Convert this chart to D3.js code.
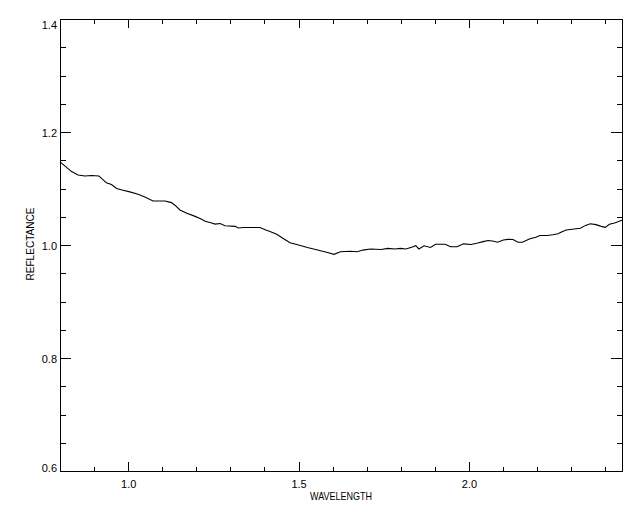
<!DOCTYPE html>
<html>
<head>
<meta charset="utf-8">
<script src="https://cdn.jsdelivr.net/npm/d3@7/dist/d3.min.js"></script>
<style>
  html, body { margin: 0; padding: 0; background: #fff; }
  svg { display: block; }
  text { font-family: "Liberation Sans", Arial, sans-serif; font-size: 11px; fill: #000; }
</style>
</head>
<body>
<svg id="chart" width="640" height="512"></svg>
<script>
// ---- Data ----
const wavelength = [
  0.800, 0.814, 0.834, 0.853, 0.873, 0.892, 0.914, 0.922, 0.936, 0.951,
  0.966, 0.985, 1.005, 1.029, 1.049, 1.073, 1.088, 1.108, 1.127, 1.138,
  1.152, 1.172, 1.191, 1.211, 1.226, 1.245, 1.255, 1.270, 1.284, 1.314,
  1.323, 1.338, 1.367, 1.387, 1.402, 1.416, 1.436, 1.455, 1.475, 1.500,
  1.526, 1.556, 1.585, 1.604, 1.623, 1.652, 1.672, 1.689, 1.711, 1.742,
  1.762, 1.783, 1.799, 1.815, 1.834, 1.844, 1.853, 1.868, 1.887, 1.902,
  1.930, 1.946, 1.965, 1.984, 2.006, 2.026, 2.041, 2.056, 2.069, 2.084,
  2.101, 2.114, 2.129, 2.144, 2.157, 2.177, 2.196, 2.208, 2.230, 2.246,
  2.261, 2.270, 2.285, 2.303, 2.327, 2.342, 2.356, 2.373, 2.388, 2.400,
  2.412, 2.427, 2.437, 2.449
];
const reflectance = [
  1.147, 1.140, 1.130, 1.124, 1.122, 1.123, 1.122, 1.118, 1.110, 1.107,
  1.100, 1.097, 1.094, 1.090, 1.085, 1.078, 1.078, 1.078, 1.075, 1.070,
  1.062, 1.056, 1.052, 1.047, 1.042, 1.039, 1.037, 1.038, 1.034, 1.033,
  1.030, 1.031, 1.031, 1.031, 1.027, 1.024, 1.019, 1.0115, 1.004, 1.000,
  0.9956, 0.9912, 0.9867, 0.9835, 0.9880, 0.989, 0.988, 0.991, 0.993, 0.992,
  0.994, 0.993, 0.994, 0.993, 0.9965, 0.9988, 0.993, 0.9986, 0.9956, 1.0014,
  1.0014, 0.997, 0.997, 1.002, 1.001, 1.0035, 1.006, 1.008, 1.007, 1.005,
  1.009, 1.010, 1.0097, 1.005, 1.0048, 1.0106, 1.0136, 1.0168, 1.0168, 1.018,
  1.020, 1.0225, 1.0265, 1.028, 1.0296, 1.0347, 1.0377, 1.036, 1.033, 1.0313,
  1.0368, 1.039, 1.041, 1.044
];
const xMajorTicks = [1.0, 1.5, 2.0];
const xMinorTicks = [0.9, 1.1, 1.2, 1.3, 1.4, 1.6, 1.7, 1.8, 1.9, 2.1, 2.2, 2.3, 2.4];
const yMajorTicks = [0.6, 0.8, 1.0, 1.2, 1.4];
const yMinorTicks = [0.65, 0.7, 0.75, 0.85, 0.9, 0.95, 1.05, 1.1, 1.15, 1.25, 1.3, 1.35];
const xTitle = "WAVELENGTH";
const yTitle = "REFLECTANCE";

(function () {
  // ---- Layout ----
  const pL = 60, pR = 622, pT = 19, pB = 471;
  const svg = d3.select("#chart");

  const x = d3.scaleLinear().domain([0.8, 2.449]).range([pL, pR]);
  const y = d3.scaleLinear().domain([0.6, 1.4]).range([pB, pT]);

  const majX = 9, minX = 4.5, majY = 11, minY = 5.5;
  const fmt = d3.format(".1f");

  const g = svg.append("g").attr("shape-rendering", "crispEdges");

  // Bottom axis (ticks inward)
  const bottomAxis = g.append("g").attr("transform", `translate(0,${pB})`)
    .call(d3.axisBottom(x).tickValues(xMajorTicks).tickSizeInner(-majX).tickSizeOuter(0).tickPadding(8).tickFormat(fmt));
  g.append("g").attr("transform", `translate(0,${pB})`)
    .call(d3.axisBottom(x).tickValues(xMinorTicks).tickSizeInner(-minX).tickSizeOuter(0).tickFormat(""));
  // Top axis
  g.append("g").attr("transform", `translate(0,${pT})`)
    .call(d3.axisTop(x).tickValues(xMajorTicks).tickSizeInner(-majX).tickSizeOuter(0).tickFormat(""));
  g.append("g").attr("transform", `translate(0,${pT})`)
    .call(d3.axisTop(x).tickValues(xMinorTicks).tickSizeInner(-minX).tickSizeOuter(0).tickFormat(""));
  // Left axis
  const leftAxis = g.append("g").attr("transform", `translate(${pL},0)`)
    .call(d3.axisLeft(y).tickValues(yMajorTicks).tickSizeInner(-majY).tickSizeOuter(0).tickPadding(3).tickFormat(fmt));
  g.append("g").attr("transform", `translate(${pL},0)`)
    .call(d3.axisLeft(y).tickValues(yMinorTicks).tickSizeInner(-minY).tickSizeOuter(0).tickFormat(""));
  // Right axis
  g.append("g").attr("transform", `translate(${pR},0)`)
    .call(d3.axisRight(y).tickValues(yMajorTicks).tickSizeInner(-majY).tickSizeOuter(0).tickFormat(""));
  g.append("g").attr("transform", `translate(${pR},0)`)
    .call(d3.axisRight(y).tickValues(yMinorTicks).tickSizeInner(-minY).tickSizeOuter(0).tickFormat(""));

  g.selectAll(".domain").remove();
  g.selectAll(".tick line").attr("stroke", "#000");
  g.selectAll(".tick text").attr("font-family", null).attr("font-size", null).attr("fill", "#000");

  // Keep y labels inside the frame's vertical extent like the reference
  leftAxis.selectAll(".tick").each(function (d) {
    const yy = y(d);
    const base = Math.min(Math.max(yy + 4, pT + 9), pB) - yy;
    d3.select(this).select("text").attr("dy", null).attr("y", base).attr("x", -3);
  });
  bottomAxis.selectAll(".tick text").attr("dy", null).attr("y", 16.5);

  // Frame
  g.append("rect")
    .attr("x", pL).attr("y", pT)
    .attr("width", pR - pL).attr("height", pB - pT)
    .attr("fill", "none").attr("stroke", "#000").attr("stroke-width", 1);

  // Titles
  svg.append("text")
    .attr("x", 341).attr("y", 500)
    .attr("text-anchor", "middle")
    .attr("textLength", 62).attr("lengthAdjust", "spacingAndGlyphs")
    .text(xTitle);
  svg.append("text")
    .attr("transform", "translate(34,244) rotate(-90)")
    .attr("text-anchor", "middle")
    .attr("textLength", 73).attr("lengthAdjust", "spacingAndGlyphs")
    .text(yTitle);

  // Curve
  const pts = wavelength.map((w, i) => [w, reflectance[i]]);
  svg.append("path")
    .datum(pts)
    .attr("fill", "none")
    .attr("stroke", "#000")
    .attr("stroke-width", 1.1)
    .attr("d", d3.line().x(d => x(d[0])).y(d => y(d[1])));
})();
</script>
</body>
</html>
